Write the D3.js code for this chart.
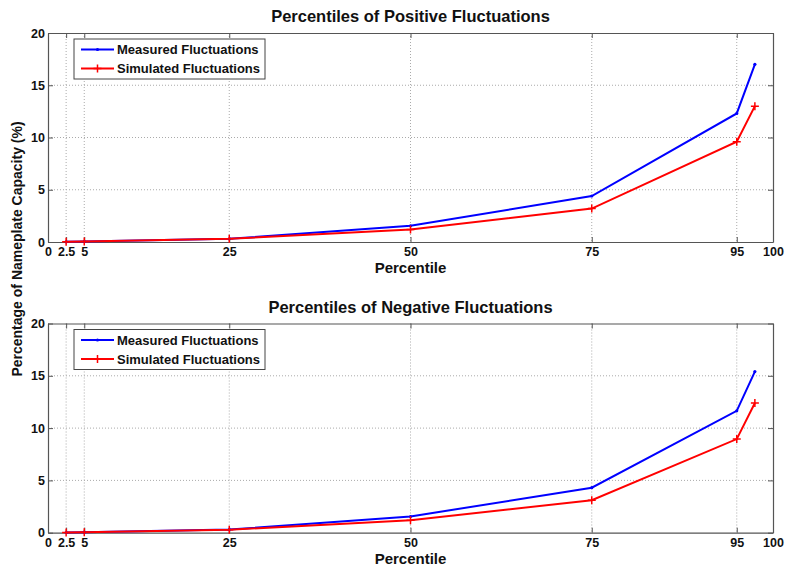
<!DOCTYPE html>
<html><head><meta charset="utf-8">
<script src="https://cdn.jsdelivr.net/npm/d3@7/dist/d3.min.js"></script>
<style>
body{margin:0;background:#fff;}
text{font-family:"Liberation Sans",Arial,sans-serif;font-weight:bold;}
</style></head>
<body>
<svg id="chart" width="785" height="571"></svg>
<script>
const percentiles = [2.5, 5, 25, 50, 75, 95, 97.5];
const posMeasured = [0.02, 0.05, 0.3, 1.55, 4.4, 12.3, 17.0];
const posSimulated = [0.02, 0.04, 0.3, 1.2, 3.2, 9.6, 13.0];
const negMeasured = [0.02, 0.05, 0.3, 1.55, 4.3, 11.65, 15.4];
const negSimulated = [0.02, 0.04, 0.28, 1.2, 3.1, 8.95, 12.4];
const xTicks = [0, 2.5, 5, 25, 50, 75, 95, 100];
const yTicks = [0, 5, 10, 15, 20];
const titles = ["Percentiles of Positive Fluctuations", "Percentiles of Negative Fluctuations"];
const seriesNames = ["Measured Fluctuations", "Simulated Fluctuations"];
const xLabel = "Percentile";
const yLabel = "Percentage of Nameplate Capacity (%)";

const svg = d3.select("#chart");
const left = 48, right = 773;
const panels = [
  {top: 33, bottom: 242, title: titles[0], m: posMeasured, s: posSimulated},
  {top: 323.5, bottom: 532.7, title: titles[1], m: negMeasured, s: negSimulated}
];
const x = d3.scaleLinear().domain([0, 100]).range([left, right]);
const axisCol = "#555";
const fmt = d => String(d);

panels.forEach(p => {
  const y = d3.scaleLinear().domain([0, 20]).range([p.bottom, p.top]);
  const g = svg.append("g");
  // grid
  g.append("g").selectAll("line").data(xTicks.filter(t => t > 0 && t < 100)).join("line")
    .attr("x1", d => x(d)).attr("x2", d => x(d)).attr("y1", p.top).attr("y2", p.bottom)
    .attr("stroke", "#aaa").attr("stroke-width", 1).attr("stroke-dasharray", "1,2");
  g.append("g").selectAll("line").data(yTicks.filter(t => t > 0 && t < 20)).join("line")
    .attr("y1", d => y(d)).attr("y2", d => y(d)).attr("x1", left).attr("x2", right)
    .attr("stroke", "#aaa").attr("stroke-width", 1).attr("stroke-dasharray", "1,2");
  // axes
  const ax = g.append("g").attr("transform", `translate(0,${p.bottom})`)
    .call(d3.axisBottom(x).tickValues(xTicks).tickFormat(fmt).tickSizeInner(-5).tickSizeOuter(0).tickPadding(5));
  const axTop = g.append("g").attr("transform", `translate(0,${p.top})`)
    .call(d3.axisTop(x).tickValues(xTicks).tickFormat("").tickSizeInner(-5).tickSizeOuter(0));
  const ay = g.append("g").attr("transform", `translate(${left},0)`)
    .call(d3.axisLeft(y).tickValues(yTicks).tickFormat(fmt).tickSizeInner(-5).tickSizeOuter(0).tickPadding(3));
  const ayR = g.append("g").attr("transform", `translate(${right},0)`)
    .call(d3.axisRight(y).tickValues(yTicks).tickFormat("").tickSizeInner(-5).tickSizeOuter(0));
  [ax, axTop, ay, ayR].forEach(a => {
    a.select(".domain").attr("stroke", axisCol).attr("stroke-width", 1.2);
    a.selectAll(".tick line").attr("stroke", axisCol);
    a.selectAll("text").attr("fill", "#111").style("font-size", "12.5px")
      .style("font-family", "'Liberation Sans',Arial,sans-serif").style("font-weight", "bold");
  });
  // lines
  const line = vals => d3.line().x((d, i) => x(percentiles[i])).y(d => y(d))(vals);
  g.append("path").attr("d", line(p.m)).attr("fill", "none").attr("stroke", "#0000ff").attr("stroke-width", 2);
  g.append("path").attr("d", line(p.s)).attr("fill", "none").attr("stroke", "#ff0000").attr("stroke-width", 2);
  g.append("g").selectAll("circle").data(p.m).join("circle")
    .attr("cx", (d, i) => x(percentiles[i])).attr("cy", d => y(d)).attr("r", 1.6).attr("fill", "#0000ff");
  g.append("g").selectAll("path").data(p.s).join("path")
    .attr("d", (d, i) => { const cx = x(percentiles[i]), cy = y(d); return `M${cx-4},${cy}H${cx+4}M${cx},${cy-4}V${cy+4}`; })
    .attr("stroke", "#ff0000").attr("stroke-width", 1.5);
  // title
  g.append("text").attr("x", (left + right) / 2).attr("y", p.top - 11).attr("text-anchor", "middle")
    .style("font-size", "16.5px").attr("fill", "#111").text(p.title);
  g.append("text").attr("x", (left + right) / 2).attr("y", p.bottom + 31).attr("text-anchor", "middle")
    .style("font-size", "15px").attr("fill", "#111").text(xLabel);
  // legend
  const lx = 74, ly = p.top + 6;
  const lg = g.append("g");
  lg.append("rect").attr("x", lx).attr("y", ly).attr("width", 191).attr("height", 40)
    .attr("fill", "#fff").attr("stroke", "#444").attr("stroke-width", 1);
  [["#0000ff", "dot"], ["#ff0000", "plus"]].forEach((c, i) => {
    const yy = ly + 10.5 + i * 19;
    lg.append("line").attr("x1", lx + 7).attr("x2", lx + 40).attr("y1", yy).attr("y2", yy)
      .attr("stroke", c[0]).attr("stroke-width", 2);
    if (c[1] === "dot") lg.append("circle").attr("cx", lx + 23.5).attr("cy", yy).attr("r", 1.6).attr("fill", c[0]);
    else lg.append("path").attr("d", `M${lx+19.5},${yy}H${lx+27.5}M${lx+23.5},${yy-4}V${yy+4}`).attr("stroke", c[0]).attr("stroke-width", 1.5);
    lg.append("text").attr("x", lx + 43).attr("y", yy + 4.5).style("font-size", "13px").attr("fill", "#111").text(seriesNames[i]);
  });
});
svg.append("text").attr("transform", "translate(22,249) rotate(-90)").attr("text-anchor", "middle")
  .style("font-size", "14px").attr("fill", "#111").text(yLabel);
</script>
</body></html>
